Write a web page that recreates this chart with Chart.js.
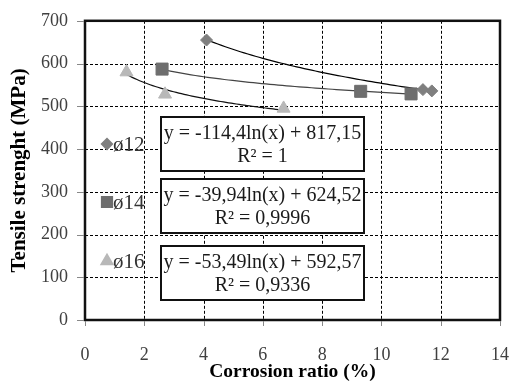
<!DOCTYPE html>
<html>
<head>
<meta charset="utf-8">
<script src="https://cdn.jsdelivr.net/npm/chart.js@4"></script>
<style>
  body { margin: 0; background: #fff; }
  #wrap { width: 528px; height: 386px; }
</style>
</head>
<body>
<div id="wrap"><canvas id="myChart"></canvas></div>
<script>
const ctx = document.getElementById('myChart').getContext('2d');

// series
const seriesNames = ['ø12', 'ø14', 'ø16'];
const x12 = [4.1, 11.4, 11.7];
const y12 = [655, 539, 536];
const x14 = [2.6, 9.3, 11.0];
const y14 = [587, 535, 529];
const x16 = [1.4, 2.7, 6.7];
const y16 = [580, 528, 495];

// log trendlines y = a*ln(x) + b, as printed on the chart
const trendA = [-114.4, -39.94, -53.49];
const trendB = [817.15, 624.52, 592.57];
const trendR2 = ['1', '0,9996', '0,9336'];
const trendText = ['y = -114,4ln(x) + 817,15', 'y = -39,94ln(x) + 624,52', 'y = -53,49ln(x) + 592,57'];

const xTicks = [0, 2, 4, 6, 8, 10, 12, 14];
const yTicks = [0, 100, 200, 300, 400, 500, 600, 700];

const serif = "'Liberation Serif', 'DejaVu Serif', serif";
const markerColors = ['#7f7f7f', '#6e6e6e', '#b8b8b8'];
const markerStyles = ['rectRot', 'rect', 'triangle'];
const markerRadius = [6, 8.5, 7.5];
const trendColors = ['#000', '#444', '#111'];

const pts = (xs, ys) => xs.map((x, i) => ({ x: x, y: ys[i] }));

// dashed line built from short solid pieces
function dashed(c, x0, y0, x1, y1) {
    const len = Math.hypot(x1 - x0, y1 - y0);
    const ux = (x1 - x0) / len, uy = (y1 - y0) / len;
    c.beginPath();
    for (let d = 0; d < len; d += 5) {
        const e = Math.min(d + 3, len);
        c.moveTo(x0 + ux * d, y0 + uy * d);
        c.lineTo(x0 + ux * e, y0 + uy * e);
    }
    c.stroke();
}

// dashed grid, trendlines and the thick frame, under the markers
const framePlugin = {
    id: 'frame',
    beforeDatasetsDraw(chart) {
        const c = chart.ctx, a = chart.chartArea;
        const sx = chart.scales.x, sy = chart.scales.y;
        c.save();
        c.strokeStyle = '#000';
        c.lineWidth = 1;
        xTicks.forEach(v => {
            const px = Math.round(sx.getPixelForValue(v)) + 0.5;
            dashed(c, px, a.top, px, a.bottom);
        });
        yTicks.forEach(v => {
            const py = Math.round(sy.getPixelForValue(v)) + 0.5;
            dashed(c, a.left, py, a.right, py);
        });
        // frame
        c.strokeStyle = '#111';
        c.lineWidth = 2.5;
        c.strokeRect(a.left, a.top, a.right - a.left, a.bottom - a.top);
        // trendlines
        chart.data.datasets.forEach((ds, i) => {
            const xs = ds.data.map(p => p.x);
            const x0 = Math.min(...xs), x1 = Math.max(...xs);
            c.beginPath();
            c.strokeStyle = trendColors[i];
            c.lineWidth = 1.2;
            for (let k = 0; k <= 60; k++) {
                const xv = x0 + (x1 - x0) * k / 60;
                const px = sx.getPixelForValue(xv);
                const py = sy.getPixelForValue(trendA[i] * Math.log(xv) + trendB[i]);
                if (k === 0) c.moveTo(px, py); else c.lineTo(px, py);
            }
            c.stroke();
        });
        c.restore();
    },
    afterDatasetsDraw(chart) {
        const c = chart.ctx;
        c.save();
        // equation boxes
        const boxTops = [117, 179, 246];
        boxTops.forEach((top, i) => {
            const left = 161, w = 203, h = 54;
            c.fillStyle = '#fff';
            c.fillRect(left, top, w, h);
            c.strokeStyle = '#111';
            c.lineWidth = 2;
            c.strokeRect(left, top, w, h);
            c.fillStyle = '#1a1a1a';
            c.font = '20px ' + serif;
            c.textAlign = 'center';
            c.textBaseline = 'middle';
            c.fillText(trendText[i], left + w / 2, top + 17);
            c.fillText('R² = ' + trendR2[i], left + w / 2, top + 40);
        });
        // legend inside the plot
        const rows = [144, 202, 261];
        chart.data.datasets.forEach((ds, i) => {
            c.fillStyle = ds.backgroundColor;
            c.strokeStyle = ds.backgroundColor;
            Chart.helpers.drawPoint(c, {
                pointStyle: ds.pointStyle,
                radius: markerRadius[i] * 0.85,
                borderWidth: 1
            }, 107, rows[i]);
            c.fillStyle = '#333';
            c.font = '21px ' + serif;
            c.textAlign = 'left';
            c.textBaseline = 'middle';
            c.fillText(seriesNames[i], 113, rows[i] + 1);
        });
        c.restore();
    },
    afterDraw(chart) {
        // small outside tick marks
        const c = chart.ctx, a = chart.chartArea;
        const sx = chart.scales.x, sy = chart.scales.y;
        c.save();
        c.strokeStyle = '#888';
        c.lineWidth = 1;
        c.beginPath();
        xTicks.forEach(v => {
            const px = Math.round(sx.getPixelForValue(v)) + 0.5;
            c.moveTo(px, a.bottom + 1);
            c.lineTo(px, a.bottom + 6);
        });
        yTicks.forEach(v => {
            const py = Math.round(sy.getPixelForValue(v)) + 0.5;
            c.moveTo(a.left - 8, py);
            c.lineTo(a.left - 1, py);
        });
        c.stroke();
        c.restore();
    }
};

const myChart = new Chart(ctx, {
    type: 'scatter',
    data: {
        datasets: [
            { label: seriesNames[0], data: pts(x12, y12) },
            { label: seriesNames[1], data: pts(x14, y14) },
            { label: seriesNames[2], data: pts(x16, y16) }
        ].map((ds, i) => Object.assign(ds, {
            pointStyle: markerStyles[i],
            pointRadius: markerRadius[i],
            backgroundColor: markerColors[i],
            borderColor: markerColors[i],
            borderWidth: 1,
            showLine: false
        }))
    },
    options: {
        responsive: true,
        maintainAspectRatio: false,
        animation: false,
        layout: { padding: { top: 13, right: 12, left: 0, bottom: 0 } },
        plugins: {
            legend: { display: false },
            tooltip: { enabled: false }
        },
        scales: {
            x: {
                type: 'linear',
                min: 0, max: 14,
                afterFit: s => { s.height = 66; },
                afterBuildTicks: s => { s.ticks = xTicks.map(v => ({ value: v })); },
                grid: { color: 'rgba(0,0,0,0)', tickColor: 'rgba(0,0,0,0)', tickLength: 5 },
                border: { display: false },
                ticks: { color: '#404040', padding: 19, font: { family: serif, size: 18 } },
                title: {
                    display: true, text: 'Corrosion ratio (%)', color: '#000',
                    padding: { top: 0, bottom: 2 },
                    font: { family: serif, size: 19.5, weight: 'bold' }
                }
            },
            y: {
                min: 0, max: 700,
                afterFit: s => { s.width = 85; },
                afterBuildTicks: s => { s.ticks = yTicks.map(v => ({ value: v })); },
                grid: { color: 'rgba(0,0,0,0)', tickColor: 'rgba(0,0,0,0)', tickLength: 7 },
                border: { display: false },
                ticks: { color: '#404040', padding: 10, font: { family: serif, size: 18 } },
                title: {
                    display: true, text: 'Tensile strenght (MPa)', color: '#000',
                    padding: { top: 7, bottom: 0 },
                    font: { family: serif, size: 21, weight: 'bold' }
                }
            }
        }
    },
    plugins: [framePlugin]
});
</script>
</body>
</html>
